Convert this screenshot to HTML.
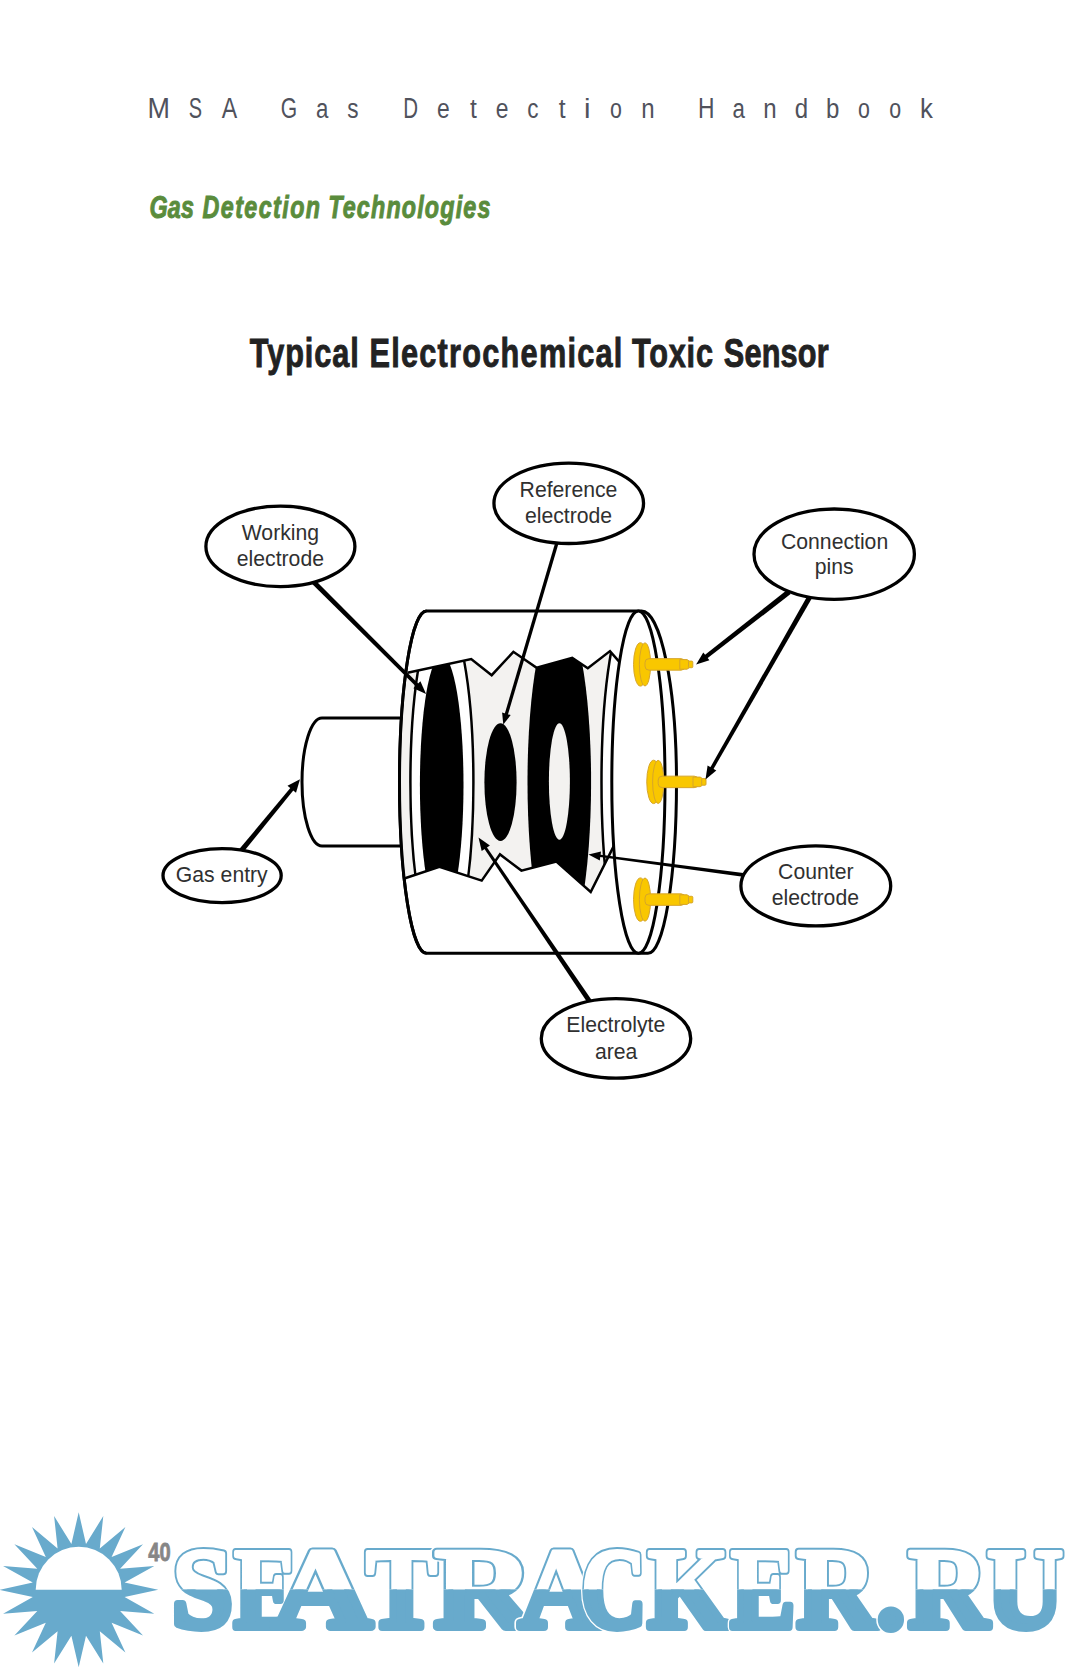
<!DOCTYPE html>
<html><head><meta charset="utf-8"><title>MSA Gas Detection Handbook</title>
<style>
html,body{margin:0;padding:0;background:#fff;}
body{width:1080px;height:1669px;overflow:hidden;position:relative;font-family:"Liberation Sans",sans-serif;}
svg{position:absolute;left:0;top:0;display:block;}
</style></head><body>
<svg width="1080" height="1669" viewBox="0 0 1080 1669">
<g font-family="Liberation Sans, sans-serif" font-size="29.3" fill="#50525c" text-anchor="middle"><text transform="translate(158.6,117.8) scale(0.92,1)" x="0" y="0">M</text><text transform="translate(195.5,117.8) scale(0.68,1)" x="0" y="0">S</text><text transform="translate(229.5,117.8) scale(0.79,1)" x="0" y="0">A</text><text transform="translate(288.9,117.8) scale(0.72,1)" x="0" y="0">G</text><text transform="translate(322.2,117.8) scale(0.76,0.92)" x="0" y="0">a</text><text transform="translate(352.8,117.8) scale(0.77,0.92)" x="0" y="0">s</text><text transform="translate(410.6,117.8) scale(0.7,1)" x="0" y="0">D</text><text transform="translate(443.3,117.8) scale(0.78,0.92)" x="0" y="0">e</text><text transform="translate(473.3,117.8) scale(0.84,0.92)" x="0" y="0">t</text><text transform="translate(502.2,117.8) scale(0.78,0.92)" x="0" y="0">e</text><text transform="translate(532.8,117.8) scale(0.77,0.92)" x="0" y="0">c</text><text transform="translate(562.2,117.8) scale(0.84,0.92)" x="0" y="0">t</text><text transform="translate(587.2,117.8) scale(1,0.92)" x="0" y="0">i</text><text transform="translate(616,117.8) scale(0.73,0.92)" x="0" y="0">o</text><text transform="translate(648,117.8) scale(0.82,0.92)" x="0" y="0">n</text><text transform="translate(706.2,117.8) scale(0.78,1)" x="0" y="0">H</text><text transform="translate(738.8,117.8) scale(0.76,0.92)" x="0" y="0">a</text><text transform="translate(770,117.8) scale(0.82,0.92)" x="0" y="0">n</text><text transform="translate(801.4,117.8) scale(0.82,0.92)" x="0" y="0">d</text><text transform="translate(832.6,117.8) scale(0.82,0.92)" x="0" y="0">b</text><text transform="translate(863.9,117.8) scale(0.73,0.92)" x="0" y="0">o</text><text transform="translate(895.2,117.8) scale(0.73,0.92)" x="0" y="0">o</text><text transform="translate(926.5,117.8) scale(0.88,0.92)" x="0" y="0">k</text></g>
<g font-family="Liberation Sans, sans-serif" font-weight="bold" font-style="italic" font-size="31.5" fill="#5a8c3c" stroke="#5a8c3c" stroke-width="1"><text transform="translate(149.4,217.9) scale(0.74,1)" textLength="60.27" lengthAdjust="spacing">Gas</text><text transform="translate(202.6,217.9) scale(0.74,1)" textLength="158.65" lengthAdjust="spacing">Detection</text><text transform="translate(328.2,217.9) scale(0.74,1)" textLength="219.19" lengthAdjust="spacing">Technologies</text></g>
<g font-family="Liberation Sans, sans-serif" font-weight="bold" font-size="40.4" fill="#222" stroke="#222" stroke-width="0.9"><text transform="translate(249.8,366.7) scale(0.76,1)" textLength="143.42" lengthAdjust="spacing">Typical</text><text transform="translate(369.4,366.7) scale(0.76,1)" textLength="332.89" lengthAdjust="spacing">Electrochemical</text><text transform="translate(632.0,366.7) scale(0.76,1)" textLength="106.58" lengthAdjust="spacing">Toxic</text><text transform="translate(723.8,366.7) scale(0.76,1)" textLength="137.89" lengthAdjust="spacing">Sensor</text></g>
<g><path d="M 400,718 L 322,718 A 20 64 0 0 0 322,846 L 400,846" fill="#fff" stroke="#000" stroke-width="3"/><path d="M 426.5,611.0 L 641.5,611.0 A 35 171.15 0 0 1 676.5,782.15 A 28.5 171.15 0 0 1 648,953.3 L 426.5,953.3 A 27 171.15 0 0 1 426.5,611.0 Z" fill="#fff" stroke="#000" stroke-width="3"/><defs><clipPath id="cut"><path d="M 407.5,672.8 L 471.2,659 L 491.7,675.2 L 513.4,651.8 L 536.7,667.8 L 572.2,657.8 L 587.8,668.3 L 610,651.1 L 620,662.6 A 26.6 171.15 0 0 0 614.1,845.4 L 590.7,892 L 556.4,861.6 L 521.4,870.6 L 500,854.4 L 481.7,880.6 L 439.4,866.7 L 405,878.3 A 27 171.15 0 0 1 407.5,672.8 Z"/></clipPath></defs><path d="M 407.5,672.8 L 471.2,659 L 491.7,675.2 L 513.4,651.8 L 536.7,667.8 L 572.2,657.8 L 587.8,668.3 L 610,651.1 L 620,662.6 A 26.6 171.15 0 0 0 614.1,845.4 L 590.7,892 L 556.4,861.6 L 521.4,870.6 L 500,854.4 L 481.7,880.6 L 439.4,866.7 L 405,878.3 A 27 171.15 0 0 1 407.5,672.8 Z" fill="#f3f2f0"/><g clip-path="url(#cut)"><ellipse cx="441.9" cy="782.15" rx="31.5" ry="171.15" fill="#fff" stroke="#000" stroke-width="2.5"/><ellipse cx="441.7" cy="785" rx="21.8" ry="130" fill="#000"/><ellipse cx="500.5" cy="782.2" rx="16.1" ry="58.9" fill="#000"/><ellipse cx="559.3" cy="782.15" rx="31.8" ry="171.15" fill="#000"/><ellipse cx="559.4" cy="781.5" rx="10.5" ry="58.3" fill="#f3f2f0"/><ellipse cx="629" cy="782.15" rx="27.5" ry="171.15" fill="#fff" stroke="#000" stroke-width="2.5"/></g><polyline points="407.5,672.8 471.2,659 491.7,675.2 513.4,651.8 536.7,667.8 572.2,657.8 587.8,668.3 610,651.1 620,662.6" fill="none" stroke="#000" stroke-width="2.5" stroke-linejoin="miter"/><polyline points="614.1,845.4 590.7,892 556.4,861.6 521.4,870.6 500,854.4 481.7,880.6 439.4,866.7 405,878.3" fill="none" stroke="#000" stroke-width="2.5" stroke-linejoin="miter"/><path d="M 426.5,611.0 A 27 171.15 0 0 0 426.5,953.3" fill="none" stroke="#000" stroke-width="3"/><ellipse cx="638.4" cy="782.15" rx="26.6" ry="171.15" fill="#fff" stroke="#000" stroke-width="3"/><ellipse cx="640.4" cy="664.4" rx="6.85" ry="21.7" fill="#f9c700" stroke="#d6a52a" stroke-width="1"/><ellipse cx="645" cy="664.4" rx="5.6" ry="21.5" fill="#f9c700" stroke="#d6a52a" stroke-width="1"/><rect x="645" y="658.65" width="40" height="11.5" rx="4" fill="#f9c700" stroke="#d6a52a" stroke-width="1"/><polygon points="679.8,659.6 687,659.6 689,660.9 689,667.9 687,669.1999999999999 679.8,669.1999999999999" fill="#f9c700" stroke="#d6a52a" stroke-width="1"/><rect x="688.5" y="661.1" width="4.3" height="6.6" rx="1" fill="#f9c700" stroke="#d6a52a" stroke-width="1"/><ellipse cx="653.6" cy="781.9" rx="6.85" ry="21.7" fill="#f9c700" stroke="#d6a52a" stroke-width="1"/><ellipse cx="658.2" cy="781.9" rx="5.6" ry="21.5" fill="#f9c700" stroke="#d6a52a" stroke-width="1"/><rect x="658.2" y="776.15" width="40" height="11.5" rx="4" fill="#f9c700" stroke="#d6a52a" stroke-width="1"/><polygon points="693.0,777.1 700.2,777.1 702.2,778.4 702.2,785.4 700.2,786.6999999999999 693.0,786.6999999999999" fill="#f9c700" stroke="#d6a52a" stroke-width="1"/><rect x="701.7" y="778.6" width="4.3" height="6.6" rx="1" fill="#f9c700" stroke="#d6a52a" stroke-width="1"/><ellipse cx="640.4" cy="899.6" rx="6.85" ry="21.7" fill="#f9c700" stroke="#d6a52a" stroke-width="1"/><ellipse cx="645" cy="899.6" rx="5.6" ry="21.5" fill="#f9c700" stroke="#d6a52a" stroke-width="1"/><rect x="645" y="893.85" width="40" height="11.5" rx="4" fill="#f9c700" stroke="#d6a52a" stroke-width="1"/><polygon points="679.8,894.8000000000001 687,894.8000000000001 689,896.1 689,903.1 687,904.4 679.8,904.4" fill="#f9c700" stroke="#d6a52a" stroke-width="1"/><rect x="688.5" y="896.3000000000001" width="4.3" height="6.6" rx="1" fill="#f9c700" stroke="#d6a52a" stroke-width="1"/><polygon points="312.2,583.9 417.0,687.4 419.6,684.9 315.6,580.5" fill="#000"/><polygon points="426.1,693.9 413.4,688.3 420.4,681.2" fill="#000"/><polygon points="555.5,541.7 504.3,715.3 507.4,716.2 558.8,542.6" fill="#000"/><polygon points="503.3,724.4 502.1,712.6 510.7,715.1" fill="#000"/><polygon points="787.3,589.8 703.5,656.0 706.1,659.3 790.6,594.1" fill="#000"/><polygon points="696.1,664.4 703.3,652.5 709.4,660.3" fill="#000"/><polygon points="807.8,595.3 709.4,769.0 712.5,770.7 812.2,597.8" fill="#000"/><polygon points="705.5,779.4 707.6,765.6 716.3,770.6" fill="#000"/><polygon points="242.4,853.3 294.5,788.9 291.6,786.5 238.5,850.1" fill="#000"/><polygon points="300,779.2 296.0,792.7 287.5,785.8" fill="#000"/><polygon points="745.2,873.2 598.6,854.6 598.3,856.8 744.7,876.9" fill="#000"/><polygon points="588.5,854.4 601.0,851.5 599.8,860.4" fill="#000"/><polygon points="592.5,1001.3 485.8,845.8 483.5,847.4 588.4,1004.1" fill="#000"/><polygon points="478.5,837.5 489.9,845.5 481.7,851.1" fill="#000"/><g font-family="Liberation Sans, sans-serif" font-size="21.2" fill="#303030"><ellipse cx="280.4" cy="546.4" rx="74.5" ry="40.2" fill="#fff" stroke="#000" stroke-width="3.3"/><text x="280.4" y="540.1" text-anchor="middle">Working</text><text x="280.4" y="566.1" text-anchor="middle">electrode</text><ellipse cx="568.75" cy="503.3" rx="74.8" ry="40.2" fill="#fff" stroke="#000" stroke-width="3.3"/><text x="568.5" y="497" text-anchor="middle">Reference</text><text x="568.5" y="523.3" text-anchor="middle">electrode</text><ellipse cx="834.2" cy="554.2" rx="80.2" ry="45.2" fill="#fff" stroke="#000" stroke-width="3.3"/><text x="834.6" y="548.7" text-anchor="middle">Connection</text><text x="834.2" y="574.2" text-anchor="middle">pins</text><ellipse cx="222.1" cy="875.6" rx="59.1" ry="27" fill="#fff" stroke="#000" stroke-width="3.3"/><text x="221.8" y="882.1" text-anchor="middle">Gas entry</text><ellipse cx="815.8" cy="885.9" rx="74.9" ry="40" fill="#fff" stroke="#000" stroke-width="3.3"/><text x="815.8" y="879.4" text-anchor="middle">Counter</text><text x="815.4" y="905.3" text-anchor="middle">electrode</text><ellipse cx="616" cy="1038.4" rx="74.7" ry="39.8" fill="#fff" stroke="#000" stroke-width="3.3"/><text x="615.8" y="1032.2" text-anchor="middle">Electrolyte</text><text x="616.2" y="1058.5" text-anchor="middle">area</text></g></g>
<defs>
<clipPath id="wtop"><rect x="0" y="1400" width="1080" height="189.5"/></clipPath>
<clipPath id="wbot"><rect x="0" y="1589.5" width="1080" height="79.5"/></clipPath>
</defs>
<polygon points="78.7,1512.3 86.0,1543.9 103.3,1516.1 99.8,1548.4 125.4,1527.1 111.6,1556.9 143.0,1544.2 120.1,1568.7 154.3,1565.9 124.6,1582.5 158.2,1589.8 124.6,1597.1 154.3,1613.7 120.1,1610.9 143.0,1635.4 111.6,1622.7 125.4,1652.5 99.8,1631.2 103.3,1663.5 86.0,1635.7 78.7,1667.3 71.4,1635.7 54.1,1663.5 57.6,1631.2 32.0,1652.5 45.8,1622.7 14.4,1635.4 37.3,1610.9 3.1,1613.7 32.8,1597.1 -0.8,1589.8 32.8,1582.5 3.1,1565.9 37.3,1568.7 14.4,1544.2 45.8,1556.9 32.0,1527.1 57.6,1548.4 54.1,1516.1 71.4,1543.9" fill="#68aacc"/><path d="M 35.7,1589.8 A 43 43 0 0 1 121.7,1589.8 Z" fill="#fff"/>
<text x="148.3" y="1560.5" font-family="Liberation Sans, sans-serif" font-weight="bold" font-size="25.5" fill="#868686" stroke="#868686" stroke-width="0.8" textLength="22.3" lengthAdjust="spacingAndGlyphs">40</text>
<g font-family="Liberation Serif, serif" font-weight="bold" font-size="114">
<g stroke="#fff" stroke-width="11" stroke-linejoin="round" fill="#fff"><text x="172" y="1627" textLength="60.7" lengthAdjust="spacingAndGlyphs">S</text></g><g clip-path="url(#wtop)" fill="#fff" stroke="#68aacc" stroke-width="8" stroke-linejoin="round"><text x="172" y="1627" textLength="60.7" lengthAdjust="spacingAndGlyphs">S</text></g><g clip-path="url(#wtop)" fill="#fff" stroke="#fff" stroke-width="4" stroke-linejoin="round"><text x="172" y="1627" textLength="60.7" lengthAdjust="spacingAndGlyphs">S</text></g><g clip-path="url(#wbot)" fill="#68aacc" stroke="#68aacc" stroke-width="8" stroke-linejoin="round"><text x="172" y="1627" textLength="60.7" lengthAdjust="spacingAndGlyphs">S</text></g><g stroke="#fff" stroke-width="11" stroke-linejoin="round" fill="#fff"><text x="234" y="1627" textLength="63.8" lengthAdjust="spacingAndGlyphs">E</text></g><g clip-path="url(#wtop)" fill="#fff" stroke="#68aacc" stroke-width="8" stroke-linejoin="round"><text x="234" y="1627" textLength="63.8" lengthAdjust="spacingAndGlyphs">E</text></g><g clip-path="url(#wtop)" fill="#fff" stroke="#fff" stroke-width="4" stroke-linejoin="round"><text x="234" y="1627" textLength="63.8" lengthAdjust="spacingAndGlyphs">E</text></g><g clip-path="url(#wbot)" fill="#68aacc" stroke="#68aacc" stroke-width="8" stroke-linejoin="round"><text x="234" y="1627" textLength="63.8" lengthAdjust="spacingAndGlyphs">E</text></g><g clip-path="url(#wtop)" fill="#fff" stroke="#68aacc" stroke-width="8" stroke-linejoin="round"><text x="272.6" y="1627" textLength="99.3" lengthAdjust="spacingAndGlyphs">A</text></g><g clip-path="url(#wtop)" fill="#fff" stroke="#fff" stroke-width="4" stroke-linejoin="round"><text x="272.6" y="1627" textLength="99.3" lengthAdjust="spacingAndGlyphs">A</text></g><g clip-path="url(#wbot)" fill="#68aacc" stroke="#68aacc" stroke-width="8" stroke-linejoin="round"><text x="272.6" y="1627" textLength="99.3" lengthAdjust="spacingAndGlyphs">A</text></g><g stroke="#fff" stroke-width="11" stroke-linejoin="round" fill="#fff"><text x="366" y="1627" textLength="71" lengthAdjust="spacingAndGlyphs">T</text></g><g clip-path="url(#wtop)" fill="#fff" stroke="#68aacc" stroke-width="8" stroke-linejoin="round"><text x="366" y="1627" textLength="71" lengthAdjust="spacingAndGlyphs">T</text></g><g clip-path="url(#wtop)" fill="#fff" stroke="#fff" stroke-width="4" stroke-linejoin="round"><text x="366" y="1627" textLength="71" lengthAdjust="spacingAndGlyphs">T</text></g><g clip-path="url(#wbot)" fill="#68aacc" stroke="#68aacc" stroke-width="8" stroke-linejoin="round"><text x="366" y="1627" textLength="71" lengthAdjust="spacingAndGlyphs">T</text></g><g stroke="#fff" stroke-width="11" stroke-linejoin="round" fill="#fff"><text x="434.4" y="1627" textLength="99.3" lengthAdjust="spacingAndGlyphs">R</text></g><g clip-path="url(#wtop)" fill="#fff" stroke="#68aacc" stroke-width="8" stroke-linejoin="round"><text x="434.4" y="1627" textLength="99.3" lengthAdjust="spacingAndGlyphs">R</text></g><g clip-path="url(#wtop)" fill="#fff" stroke="#fff" stroke-width="4" stroke-linejoin="round"><text x="434.4" y="1627" textLength="99.3" lengthAdjust="spacingAndGlyphs">R</text></g><g clip-path="url(#wbot)" fill="#68aacc" stroke="#68aacc" stroke-width="8" stroke-linejoin="round"><text x="434.4" y="1627" textLength="99.3" lengthAdjust="spacingAndGlyphs">R</text></g><g stroke="#fff" stroke-width="11" stroke-linejoin="round" fill="#fff"><text x="519" y="1627" textLength="85.8" lengthAdjust="spacingAndGlyphs">A</text></g><g clip-path="url(#wtop)" fill="#fff" stroke="#68aacc" stroke-width="8" stroke-linejoin="round"><text x="519" y="1627" textLength="85.8" lengthAdjust="spacingAndGlyphs">A</text></g><g clip-path="url(#wtop)" fill="#fff" stroke="#fff" stroke-width="4" stroke-linejoin="round"><text x="519" y="1627" textLength="85.8" lengthAdjust="spacingAndGlyphs">A</text></g><g clip-path="url(#wbot)" fill="#68aacc" stroke="#68aacc" stroke-width="8" stroke-linejoin="round"><text x="519" y="1627" textLength="85.8" lengthAdjust="spacingAndGlyphs">A</text></g><g stroke="#fff" stroke-width="11" stroke-linejoin="round" fill="#fff"><text x="581" y="1627" textLength="65.3" lengthAdjust="spacingAndGlyphs">C</text></g><g clip-path="url(#wtop)" fill="#fff" stroke="#68aacc" stroke-width="8" stroke-linejoin="round"><text x="581" y="1627" textLength="65.3" lengthAdjust="spacingAndGlyphs">C</text></g><g clip-path="url(#wtop)" fill="#fff" stroke="#fff" stroke-width="4" stroke-linejoin="round"><text x="581" y="1627" textLength="65.3" lengthAdjust="spacingAndGlyphs">C</text></g><g clip-path="url(#wbot)" fill="#68aacc" stroke="#68aacc" stroke-width="8" stroke-linejoin="round"><text x="581" y="1627" textLength="65.3" lengthAdjust="spacingAndGlyphs">C</text></g><g stroke="#fff" stroke-width="11" stroke-linejoin="round" fill="#fff"><text x="647.8" y="1627" textLength="81.2" lengthAdjust="spacingAndGlyphs">K</text></g><g clip-path="url(#wtop)" fill="#fff" stroke="#68aacc" stroke-width="8" stroke-linejoin="round"><text x="647.8" y="1627" textLength="81.2" lengthAdjust="spacingAndGlyphs">K</text></g><g clip-path="url(#wtop)" fill="#fff" stroke="#fff" stroke-width="4" stroke-linejoin="round"><text x="647.8" y="1627" textLength="81.2" lengthAdjust="spacingAndGlyphs">K</text></g><g clip-path="url(#wbot)" fill="#68aacc" stroke="#68aacc" stroke-width="8" stroke-linejoin="round"><text x="647.8" y="1627" textLength="81.2" lengthAdjust="spacingAndGlyphs">K</text></g><g stroke="#fff" stroke-width="11" stroke-linejoin="round" fill="#fff"><text x="730.7" y="1627" textLength="64.3" lengthAdjust="spacingAndGlyphs">E</text></g><g clip-path="url(#wtop)" fill="#fff" stroke="#68aacc" stroke-width="8" stroke-linejoin="round"><text x="730.7" y="1627" textLength="64.3" lengthAdjust="spacingAndGlyphs">E</text></g><g clip-path="url(#wtop)" fill="#fff" stroke="#fff" stroke-width="4" stroke-linejoin="round"><text x="730.7" y="1627" textLength="64.3" lengthAdjust="spacingAndGlyphs">E</text></g><g clip-path="url(#wbot)" fill="#68aacc" stroke="#68aacc" stroke-width="8" stroke-linejoin="round"><text x="730.7" y="1627" textLength="64.3" lengthAdjust="spacingAndGlyphs">E</text></g><g stroke="#fff" stroke-width="11" stroke-linejoin="round" fill="#fff"><text x="796.7" y="1627" textLength="80" lengthAdjust="spacingAndGlyphs">R</text></g><g clip-path="url(#wtop)" fill="#fff" stroke="#68aacc" stroke-width="8" stroke-linejoin="round"><text x="796.7" y="1627" textLength="80" lengthAdjust="spacingAndGlyphs">R</text></g><g clip-path="url(#wtop)" fill="#fff" stroke="#fff" stroke-width="4" stroke-linejoin="round"><text x="796.7" y="1627" textLength="80" lengthAdjust="spacingAndGlyphs">R</text></g><g clip-path="url(#wbot)" fill="#68aacc" stroke="#68aacc" stroke-width="8" stroke-linejoin="round"><text x="796.7" y="1627" textLength="80" lengthAdjust="spacingAndGlyphs">R</text></g><g stroke="#fff" stroke-width="11" stroke-linejoin="round" fill="#fff"><text x="876.7" y="1627" textLength="28.3" lengthAdjust="spacingAndGlyphs">.</text></g><g clip-path="url(#wtop)" fill="#fff" stroke="#68aacc" stroke-width="8" stroke-linejoin="round"><text x="876.7" y="1627" textLength="28.3" lengthAdjust="spacingAndGlyphs">.</text></g><g clip-path="url(#wtop)" fill="#fff" stroke="#fff" stroke-width="4" stroke-linejoin="round"><text x="876.7" y="1627" textLength="28.3" lengthAdjust="spacingAndGlyphs">.</text></g><g clip-path="url(#wbot)" fill="#68aacc" stroke="#68aacc" stroke-width="8" stroke-linejoin="round"><text x="876.7" y="1627" textLength="28.3" lengthAdjust="spacingAndGlyphs">.</text></g><g stroke="#fff" stroke-width="11" stroke-linejoin="round" fill="#fff"><text x="908.3" y="1627" textLength="80" lengthAdjust="spacingAndGlyphs">R</text></g><g clip-path="url(#wtop)" fill="#fff" stroke="#68aacc" stroke-width="8" stroke-linejoin="round"><text x="908.3" y="1627" textLength="80" lengthAdjust="spacingAndGlyphs">R</text></g><g clip-path="url(#wtop)" fill="#fff" stroke="#fff" stroke-width="4" stroke-linejoin="round"><text x="908.3" y="1627" textLength="80" lengthAdjust="spacingAndGlyphs">R</text></g><g clip-path="url(#wbot)" fill="#68aacc" stroke="#68aacc" stroke-width="8" stroke-linejoin="round"><text x="908.3" y="1627" textLength="80" lengthAdjust="spacingAndGlyphs">R</text></g><g stroke="#fff" stroke-width="11" stroke-linejoin="round" fill="#fff"><text x="986.7" y="1627" textLength="76.6" lengthAdjust="spacingAndGlyphs">U</text></g><g clip-path="url(#wtop)" fill="#fff" stroke="#68aacc" stroke-width="8" stroke-linejoin="round"><text x="986.7" y="1627" textLength="76.6" lengthAdjust="spacingAndGlyphs">U</text></g><g clip-path="url(#wtop)" fill="#fff" stroke="#fff" stroke-width="4" stroke-linejoin="round"><text x="986.7" y="1627" textLength="76.6" lengthAdjust="spacingAndGlyphs">U</text></g><g clip-path="url(#wbot)" fill="#68aacc" stroke="#68aacc" stroke-width="8" stroke-linejoin="round"><text x="986.7" y="1627" textLength="76.6" lengthAdjust="spacingAndGlyphs">U</text></g>
</g>
</svg>
</body></html>
